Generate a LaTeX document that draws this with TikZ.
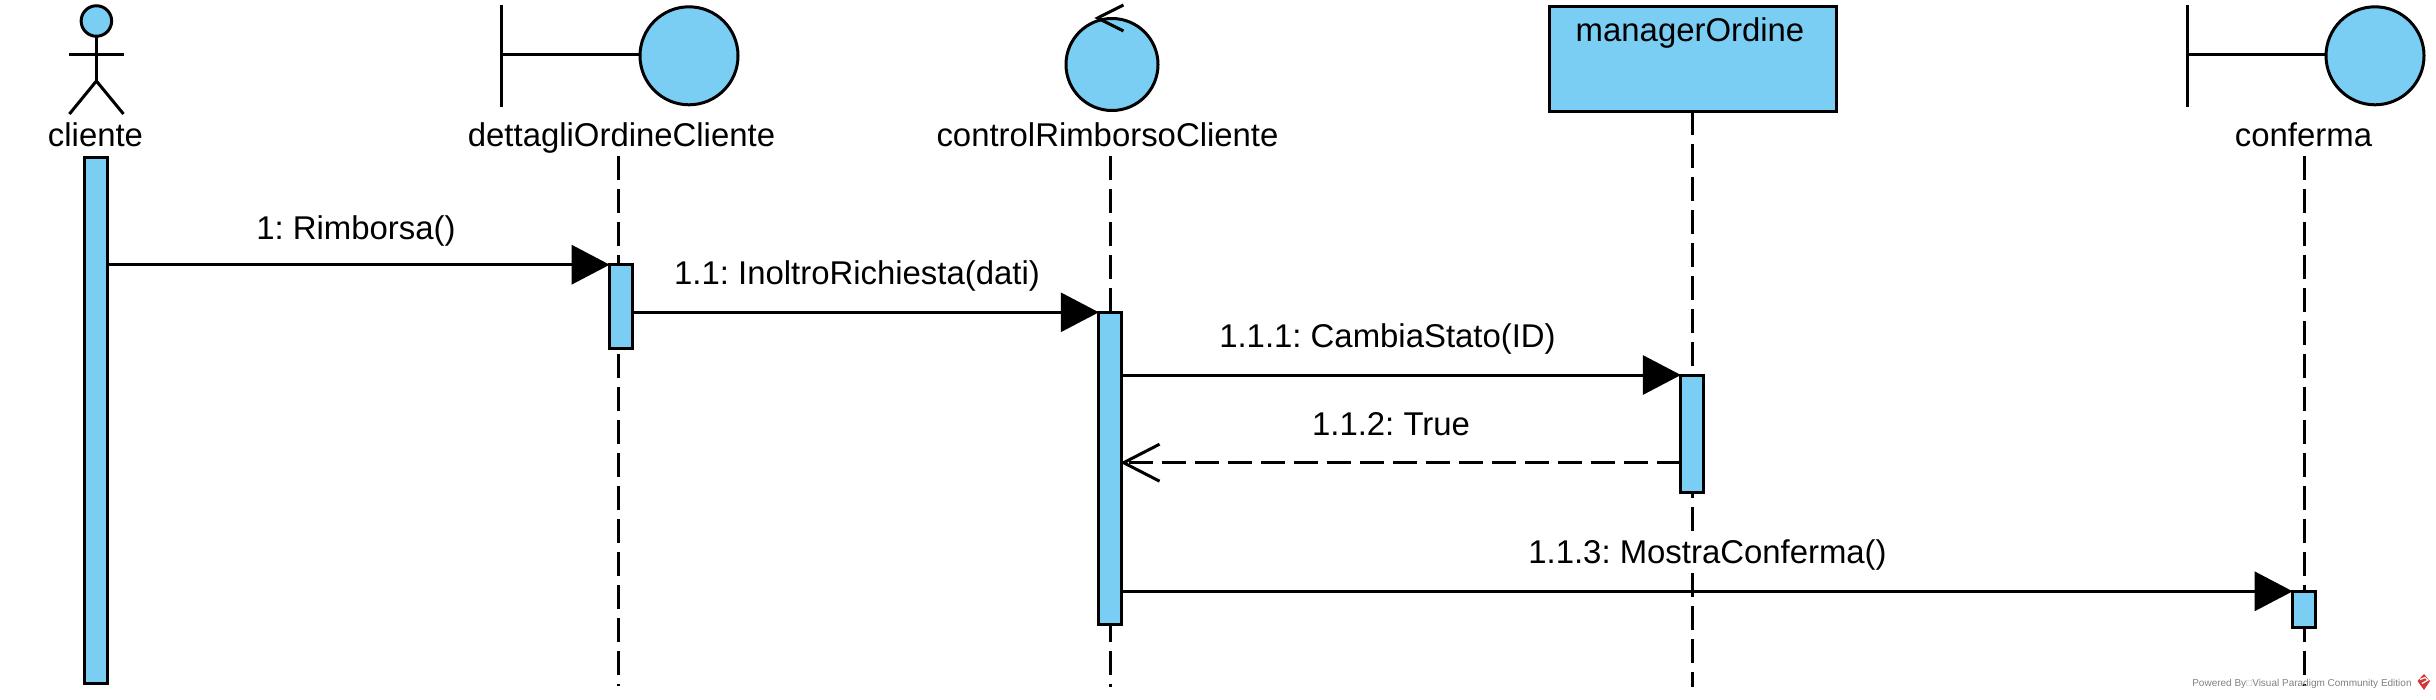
\documentclass[tikz,border=0pt]{standalone}
\usepackage{fontspec}
\setmainfont{Liberation Sans}
\usetikzlibrary{arrows.meta}
\definecolor{vpblue}{HTML}{7ACEF4}
\definecolor{vpred}{HTML}{D2383A}
\frenchspacing
\tikzset{
  x=1pt,y=-1pt,
  every node/.style={font=\frenchspacing\fontsize{32.9}{36}\selectfont,inner sep=0pt,outer sep=0pt},
  ln/.style={line width=3pt,black},
  life/.style={line width=3pt,black,dash pattern=on 24pt off 9pt},
  actbox/.style={draw,line width=3pt,fill=vpblue,rectangle,minimum width=0pt},
  disc/.style={draw,line width=3pt,fill=vpblue,circle,minimum size=#1},
  lbl/.style={anchor=base},
  msg/.style={ln,-{Triangle[length=38pt,width=39pt]}},
  reply/.style={line width=3pt,black,dash pattern=on 24pt off 9pt,-{Straight Barb[length=36pt,width=37pt,line width=3pt]}},
}
\newcommand{\actnode}[5]{\node[actbox,minimum width=#3pt,minimum height=#4pt] (#1) at (#2,#5) {};}
\begin{document}
\begin{tikzpicture}
\useasboundingbox (0,0) rectangle (2436,699);
% lifeline ends
\coordinate (l2t) at (618.5,156); \coordinate (l2b) at (618.5,686);
\coordinate (l3t) at (1110.5,156); \coordinate (l3b) at (1110.5,687);
\coordinate (l4t) at (1692.5,111); \coordinate (l4b) at (1692.5,687);
\coordinate (l5t) at (2304.5,156); \coordinate (l5b) at (2304.5,686);
\draw[life] (l2t) -- (l2b);
\draw[life] (l3t) -- (l3b);
\draw[life] (l4t) -- (l4b);
\draw[life] (l5t) -- (l5b);
% actor
\node[disc=30.5pt] (head) at (96.4,21) {};
\coordinate (hip) at (96.4,81);
\coordinate (armL) at (69.4,54); \coordinate (armR) at (123.5,54);
\coordinate (legL) at (69.4,114); \coordinate (legR) at (123.5,114);
\draw[ln] (head.south) -- (hip);
\draw[ln] (armL) -- (armR);
\draw[ln] (legL) -- (hip) -- (legR);
\node[lbl] (t1) at (95.5,146) {cliente};
% boundary 2
\coordinate (b2a) at (501.5,5); \coordinate (b2b) at (501.5,107); \coordinate (b2m) at (501.5,54);
\node[disc=98pt] (c2) at (689,55.8) {};
\draw[ln] (b2a) -- (b2b);
\draw[ln] (b2m) -- (c2.west |- b2m);
\node[lbl] (t2) at (621.5,146) {dettagliOrdineCliente};
% control
\node[disc=92pt] (c3) at (1112,64.5) {};
\coordinate (ca) at (1123.4,5); \coordinate (cb) at (1097.6,18); \coordinate (cc) at (1123.4,31);
\draw[ln] (ca) -- (cb) -- (cc);
\node[lbl] (t3) at (1107.5,146) {controlRimborsoCliente};
% manager
\node[draw,line width=3pt,fill=vpblue,minimum width=287pt,minimum height=104.5pt] (mgr) at (1692.5,59) {};
\node[lbl] (t4) at (1690,41) {managerOrdine};
% boundary 5
\coordinate (b5a) at (2187.3,5); \coordinate (b5b) at (2187.3,107); \coordinate (b5m) at (2187.3,54);
\node[disc=98pt] (c5) at (2375,55.8) {};
\draw[ln] (b5a) -- (b5b);
\draw[ln] (b5m) -- (c5.west |- b5m);
\node[lbl] (t5) at (2303.5,146.5) {conferma};
% activations
\actnode{a1}{96.2}{23}{526}{420}
\actnode{a2}{621.2}{23}{83.5}{306.5}
\actnode{a3}{1110.3}{23}{312.5}{468.3}
\actnode{a4}{1692.4}{23}{117.5}{433.8}
\actnode{a5}{2304.2}{23}{36.5}{609.3}
% message anchors
\coordinate (m1a) at (a1.east |- 0,264.7); \coordinate (m1b) at (a2.west |- m1a);
\coordinate (m2a) at (a2.east |- 0,312.3); \coordinate (m2b) at (a3.west |- m2a);
\coordinate (m3a) at (a3.east |- 0,375); \coordinate (m3b) at (a4.west |- m3a);
\coordinate (m4a) at (a4.west |- 0,462.7); \coordinate (m4b) at ([xshift=-1.5pt]a3.east |- m4a);
\coordinate (m5a) at (a3.east |- 0,591.3); \coordinate (m5b) at (a5.west |- m5a);
\draw[msg] (m1a) -- (m1b);
\draw[msg] (m2a) -- (m2b);
\draw[msg] (m3a) -- (m3b);
\draw[reply] (m4a) -- (m4b);
\draw[msg] (m5a) -- (m5b);
% labels
\node[lbl] (n1) at (356,239) {1: Rimborsa()};
\node[lbl] (n2) at (857,284) {1.1: InoltroRichiesta(dati)};
\node[lbl] (n3) at (1387.5,347) {1.1.1: CambiaStato(ID)};
\node[lbl] (n4) at (1391,435) {1.1.2: True};
\node[lbl,fill=white] (n5) at (1707.5,563) {1.1.3: MostraConferma()};
% watermark
\node[anchor=base west,font=\frenchspacing\fontsize{10}{13}\selectfont,text=black!50] (wm) at (2192.3,686) {Powered By{\color{black!25}□}Visual Paradigm Community Edition};
\fill[vpred] (2424,674) -- (2430,681) -- (2424,690) -- (2417.5,681) -- cycle;
\draw[white,line width=1.2pt] (2420,679.5) -- (2425,677.5) -- (2428,680) -- (2422,683.5);
\end{tikzpicture}
\end{document}
